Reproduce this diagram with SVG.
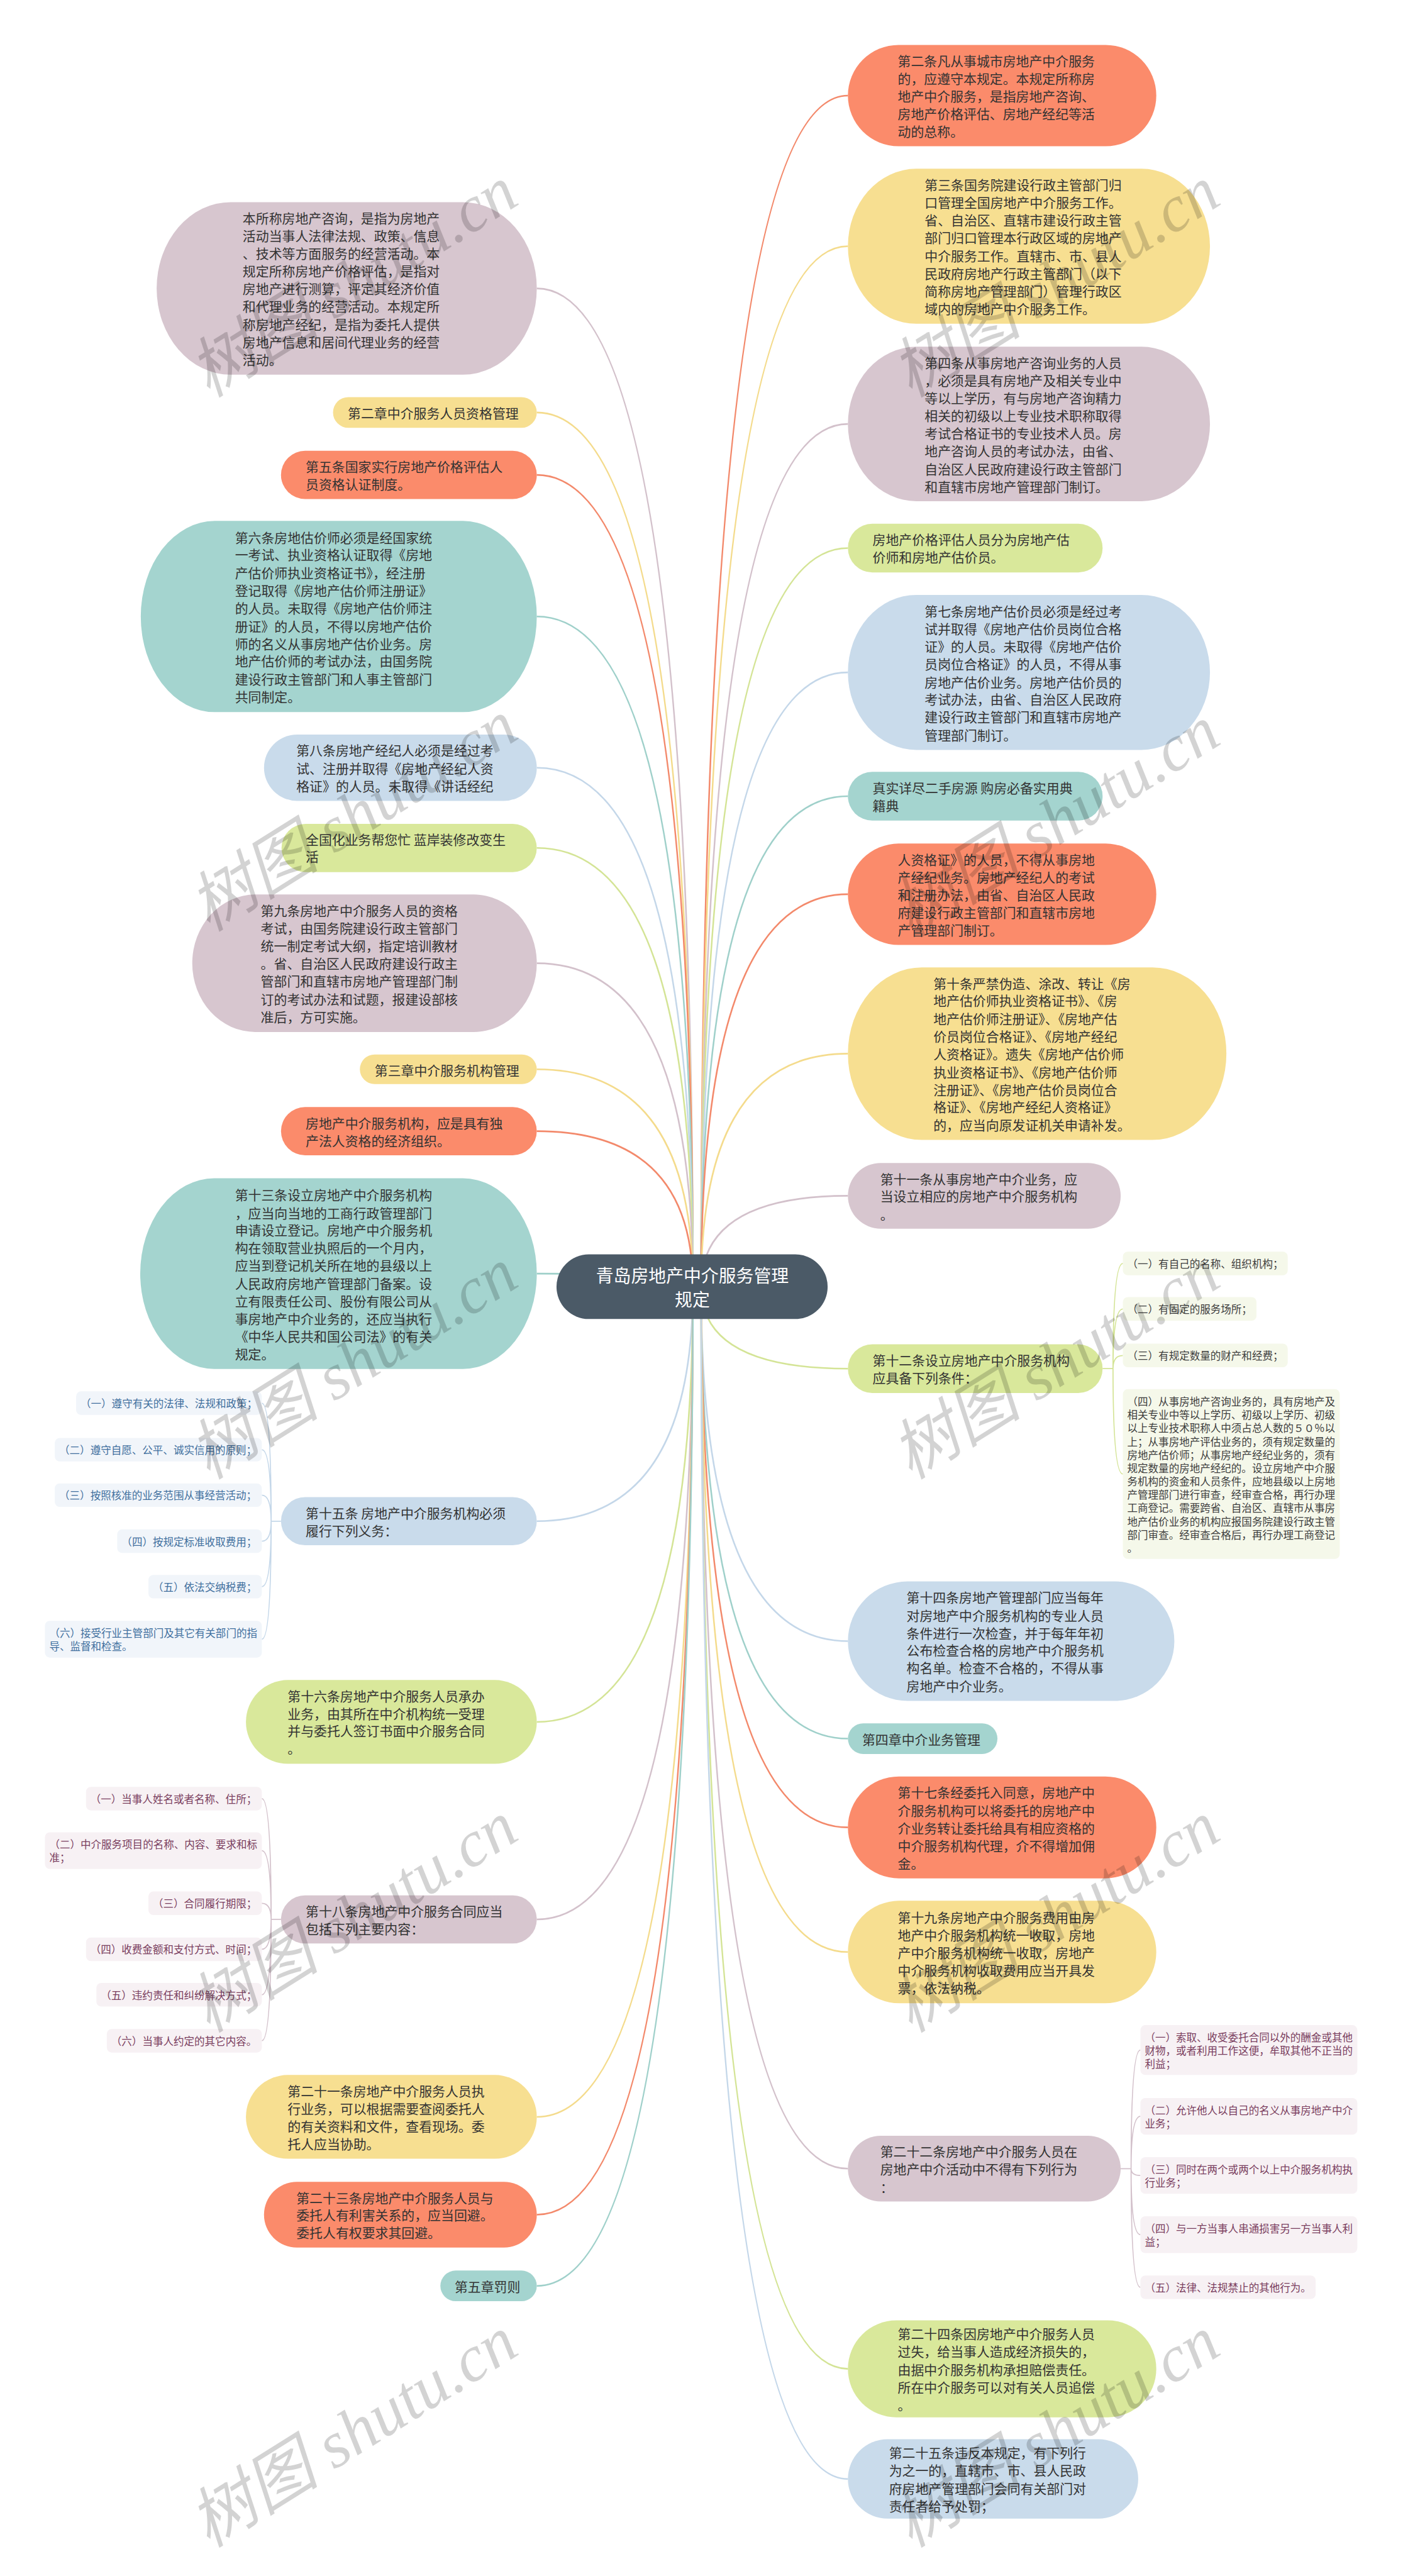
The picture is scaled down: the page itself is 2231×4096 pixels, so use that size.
<svg xmlns="http://www.w3.org/2000/svg" width="2231" height="4096" viewBox="0 0 2231 4096">
<style>
.t{font-family:"Noto Sans CJK SC","Noto Sans",sans-serif;font-size:24px;fill:#333;dominant-baseline:central}
.st{font-family:"Noto Sans CJK SC","Noto Sans",sans-serif;font-size:19px;dominant-baseline:central}
.sb{fill:#3f6f9e}.sg{fill:#3d3d3d}.sm{fill:#7a3d5e}
.sal{fill:#fb8b6b}.yel{fill:#f7df91}.mau{fill:#d7c6cf}.tea{fill:#a4d4cf}.blu{fill:#c9dbeb}.gre{fill:#d9e89b}
.bb{fill:#f1f5fa}.bg{fill:#f5f8ea}.bm{fill:#f7f1f4}
.k{fill:none;stroke-width:3}
.k2{fill:none;stroke-width:2}
.ksal{stroke:#f3896b}.kyel{stroke:#f4db8c}.kmau{stroke:#d3c1cb}.ktea{stroke:#9fd0ca}.kblu{stroke:#c4d7e9}.kgre{stroke:#d4e496}
.wm{font-family:"Liberation Serif","Noto Sans CJK SC",serif;font-style:italic;font-size:120px;fill:#000;opacity:0.17}
</style>
<rect width="2231" height="4096" fill="#fff"/>
<g transform="scale(0.871)">
<g id="connectors">
<path class="k kmau" d="M1265,2349 Q1265,526.5 980,526.5"/>
<path class="k kyel" d="M1265,2349 Q1265,753 980,753"/>
<path class="k ksal" d="M1265,2349 Q1265,867 980,867"/>
<path class="k ktea" d="M1265,2349 Q1265,1125.5 980,1125.5"/>
<path class="k kblu" d="M1265,2349 Q1265,1401.5 980,1401.5"/>
<path class="k kgre" d="M1265,2349 Q1265,1548 980,1548"/>
<path class="k kmau" d="M1265,2349 Q1265,1758.5 980,1758.5"/>
<path class="k kyel" d="M1265,2349 Q1265,1952 980,1952"/>
<path class="k ksal" d="M1265,2349 Q1265,2065 980,2065"/>
<path class="k ktea" d="M1265,2349 Q1265,2325 980,2325"/>
<path class="k kblu" d="M1265,2349 Q1265,2777 980,2777"/>
<path class="k kgre" d="M1265,2349 Q1265,3143.5 980,3143.5"/>
<path class="k kmau" d="M1265,2349 Q1265,3504 980,3504"/>
<path class="k kyel" d="M1265,2349 Q1265,3864.5 980,3864.5"/>
<path class="k ksal" d="M1265,2349 Q1265,4043 980,4043"/>
<path class="k ktea" d="M1265,2349 Q1265,4173 980,4173"/>
<path class="k ksal" d="M1280,2349 Q1280,174.5 1548,174.5"/>
<path class="k kyel" d="M1280,2349 Q1280,449.5 1548,449.5"/>
<path class="k kmau" d="M1280,2349 Q1280,774 1548,774"/>
<path class="k kgre" d="M1280,2349 Q1280,1000.5 1548,1000.5"/>
<path class="k kblu" d="M1280,2349 Q1280,1227.5 1548,1227.5"/>
<path class="k ktea" d="M1280,2349 Q1280,1453.5 1548,1453.5"/>
<path class="k ksal" d="M1280,2349 Q1280,1632.5 1548,1632.5"/>
<path class="k kyel" d="M1280,2349 Q1280,1923.5 1548,1923.5"/>
<path class="k kmau" d="M1280,2349 Q1280,2183 1548,2183"/>
<path class="k kgre" d="M1280,2349 Q1280,2498.5 1548,2498.5"/>
<path class="k kblu" d="M1280,2349 Q1280,2996 1548,2996"/>
<path class="k ktea" d="M1280,2349 Q1280,3174 1548,3174"/>
<path class="k ksal" d="M1280,2349 Q1280,3336 1548,3336"/>
<path class="k kyel" d="M1280,2349 Q1280,3563.5 1548,3563.5"/>
<path class="k kmau" d="M1280,2349 Q1280,3959 1548,3959"/>
<path class="k kgre" d="M1280,2349 Q1280,4324.5 1548,4324.5"/>
<path class="k kblu" d="M1280,2349 Q1280,4525.5 1548,4525.5"/>
<path class="k2 kblu" d="M513,2777 H495 Q495,2561.5 478,2561.5 M495,2777 Q495,2646.5 478,2646.5 M495,2777 Q495,2729.5 478,2729.5 M495,2777 Q495,2813.5 478,2813.5 M495,2777 Q495,2896.5 478,2896.5 M495,2777 Q495,2992.5 478,2992.5"/>
<path class="k2 kmau" d="M513,3504 H495 Q495,3283.5 478,3283.5 M495,3504 Q495,3378.5 478,3378.5 M495,3504 Q495,3474.5 478,3474.5 M495,3504 Q495,3558.5 478,3558.5 M495,3504 Q495,3641.5 478,3641.5 M495,3504 Q495,3725.5 478,3725.5"/>
<path class="k2 kgre" d="M2013,2498.5 H2032 Q2032,2306.5 2050,2306.5 M2032,2498.5 Q2032,2389.5 2050,2389.5 M2032,2498.5 Q2032,2474.5 2050,2474.5 M2032,2498.5 Q2032,2691 2050,2691"/>
<path class="k2 kmau" d="M2046,3959 H2065 Q2065,3742.5 2082,3742.5 M2065,3959 Q2065,3863.5 2082,3863.5 M2065,3959 Q2065,3971.5 2082,3971.5 M2065,3959 Q2065,4079.5 2082,4079.5 M2065,3959 Q2065,4175.5 2082,4175.5"/>
</g>

<g id="root">
<rect x="1016" y="2290" width="495" height="118" rx="59" fill="#4b5a67"/>
<text class="t" style="fill:#fff;font-size:32px" text-anchor="middle"><tspan x="1264" y="2327">青岛房地产中介服务管理</tspan><tspan x="1264" y="2371">规定</tspan></text>
</g>

<g id="L1"><rect class="mau" x="286" y="369" width="694" height="315" rx="135" ry="157.5"/>
<text class="t"><tspan x="443" y="397">本所称房地产咨询，是指为房地产</tspan><tspan x="443" y="429.3">活动当事人法律法规、政策、信息</tspan><tspan x="443" y="461.6">、技术等方面服务的经营活动。本</tspan><tspan x="443" y="493.9">规定所称房地产价格评估，是指对</tspan><tspan x="443" y="526.2">房地产进行测算，评定其经济价值</tspan><tspan x="443" y="558.5">和代理业务的经营活动。本规定所</tspan><tspan x="443" y="590.8">称房地产经纪，是指为委托人提供</tspan><tspan x="443" y="623.1">房地产信息和居间代理业务的经营</tspan><tspan x="443" y="655.4">活动。</tspan></text></g>
<g id="L2"><rect class="yel" x="608" y="725" width="372" height="56" rx="28"/>
<text class="t" x="635" y="753">第二章中介服务人员资格管理</text></g>
<g id="L3"><rect class="sal" x="513" y="823" width="467" height="88" rx="44"/>
<text class="t"><tspan x="558" y="851">第五条国家实行房地产价格评估人</tspan><tspan x="558" y="883">员资格认证制度。</tspan></text></g>
<g id="L4"><rect class="tea" x="257" y="951" width="723" height="349" rx="135" ry="174.5"/>
<text class="t"><tspan x="429" y="980">第六条房地估价师必须是经国家统</tspan><tspan x="429" y="1012">一考试、执业资格认证取得《房地</tspan><tspan x="429" y="1045">产估价师执业资格证书》，经注册</tspan><tspan x="429" y="1077">登记取得《房地产估价师注册证》</tspan><tspan x="429" y="1109">的人员。未取得《房地产估价师注</tspan><tspan x="429" y="1142">册证》的人员，不得以房地产估价</tspan><tspan x="429" y="1174">师的名义从事房地产估价业务。房</tspan><tspan x="429" y="1206">地产估价师的考试办法，由国务院</tspan><tspan x="429" y="1239">建设行政主管部门和人事主管部门</tspan><tspan x="429" y="1271">共同制定。</tspan></text></g>
<g id="L5"><rect class="blu" x="482" y="1341" width="498" height="121" rx="60.5"/>
<text class="t"><tspan x="541" y="1369">第八条房地产经纪人必须是经过考</tspan><tspan x="541" y="1401.5">试、注册并取得《房地产经纪人资</tspan><tspan x="541" y="1434">格证》的人员。未取得《讲话经纪</tspan></text></g>
<g id="L6"><rect class="gre" x="514" y="1504" width="466" height="88" rx="44"/>
<text class="t"><tspan x="558" y="1531">全国化业务帮您忙 蓝岸装修改变生</tspan><tspan x="558" y="1563">活</tspan></text></g>
<g id="L7"><rect class="mau" x="351" y="1633" width="629" height="251" rx="115" ry="125.5"/>
<text class="t"><tspan x="476" y="1661">第九条房地产中介服务人员的资格</tspan><tspan x="476" y="1693">考试，由国务院建设行政主管部门</tspan><tspan x="476" y="1726">统一制定考试大纲，指定培训教材</tspan><tspan x="476" y="1758">。省、自治区人民政府建设行政主</tspan><tspan x="476" y="1790">管部门和直辖市房地产管理部门制</tspan><tspan x="476" y="1823">订的考试办法和试题，报建设部核</tspan><tspan x="476" y="1855">准后，方可实施。</tspan></text></g>
<g id="L8"><rect class="yel" x="657" y="1925" width="323" height="54" rx="27"/>
<text class="t" x="684" y="1953">第三章中介服务机构管理</text></g>
<g id="L9"><rect class="sal" x="513" y="2021" width="467" height="88" rx="44"/>
<text class="t"><tspan x="558" y="2049">房地产中介服务机构，应是具有独</tspan><tspan x="558" y="2081">产法人资格的经济组织。</tspan></text></g>
<g id="L10"><rect class="tea" x="256" y="2151" width="724" height="348" rx="135" ry="174"/>
<text class="t"><tspan x="429" y="2180">第十三条设立房地产中介服务机构</tspan><tspan x="429" y="2213">，应当向当地的工商行政管理部门</tspan><tspan x="429" y="2245">申请设立登记。房地产中介服务机</tspan><tspan x="429" y="2277">构在领取营业执照后的一个月内，</tspan><tspan x="429" y="2309">应当到登记机关所在地的县级以上</tspan><tspan x="429" y="2342">人民政府房地产管理部门备案。设</tspan><tspan x="429" y="2374">立有限责任公司、股份有限公司从</tspan><tspan x="429" y="2406">事房地产中介业务的，还应当执行</tspan><tspan x="429" y="2439">《中华人民共和国公司法》的有关</tspan><tspan x="429" y="2471">规定。</tspan></text></g>
<g id="L11"><rect class="blu" x="513" y="2733" width="467" height="88" rx="44"/>
<text class="t"><tspan x="558" y="2761">第十五条 房地产中介服务机构必须</tspan><tspan x="558" y="2793">履行下列义务：</tspan></text></g>
<g id="L12"><rect class="gre" x="449" y="3067" width="531" height="153" rx="76.5"/>
<text class="t"><tspan x="525" y="3095">第十六条房地产中介服务人员承办</tspan><tspan x="525" y="3127">业务，由其所在中介机构统一受理</tspan><tspan x="525" y="3159">并与委托人签订书面中介服务合同</tspan><tspan x="525" y="3191">。</tspan></text></g>
<g id="L13"><rect class="mau" x="513" y="3460" width="467" height="88" rx="44"/>
<text class="t"><tspan x="558" y="3488">第十八条房地产中介服务合同应当</tspan><tspan x="558" y="3520">包括下列主要内容：</tspan></text></g>
<g id="L14"><rect class="yel" x="449" y="3788" width="531" height="153" rx="76.5"/>
<text class="t"><tspan x="525" y="3816">第二十一条房地产中介服务人员执</tspan><tspan x="525" y="3848">行业务，可以根据需要查阅委托人</tspan><tspan x="525" y="3881">的有关资料和文件，查看现场。委</tspan><tspan x="525" y="3913">托人应当协助。</tspan></text></g>
<g id="L15"><rect class="sal" x="482" y="3983" width="498" height="120" rx="60"/>
<text class="t"><tspan x="541" y="4011">第二十三条房地产中介服务人员与</tspan><tspan x="541" y="4043">委托人有利害关系的，应当回避。</tspan><tspan x="541" y="4075">委托人有权要求其回避。</tspan></text></g>
<g id="L16"><rect class="tea" x="804" y="4145" width="176" height="56" rx="28"/>
<text class="t" x="830" y="4173">第五章罚则</text></g>

<g id="R1"><rect class="sal" x="1548" y="82" width="563" height="185" rx="92.5"/>
<text class="t"><tspan x="1639" y="110">第二条凡从事城市房地产中介服务</tspan><tspan x="1639" y="142">的，应遵守本规定。本规定所称房</tspan><tspan x="1639" y="174.5">地产中介服务，是指房地产咨询、</tspan><tspan x="1639" y="207">房地产价格评估、房地产经纪等活</tspan><tspan x="1639" y="239">动的总称。</tspan></text></g>
<g id="R2"><rect class="yel" x="1548" y="308" width="661" height="283" rx="125" ry="141.5"/>
<text class="t"><tspan x="1688" y="336.5">第三条国务院建设行政主管部门归</tspan><tspan x="1688" y="368.8">口管理全国房地产中介服务工作。</tspan><tspan x="1688" y="401">省、自治区、直辖市建设行政主管</tspan><tspan x="1688" y="433.4">部门归口管理本行政区域的房地产</tspan><tspan x="1688" y="465.7">中介服务工作。直辖市、市、县人</tspan><tspan x="1688" y="498">民政府房地产行政主管部门（以下</tspan><tspan x="1688" y="530">简称房地产管理部门）管理行政区</tspan><tspan x="1688" y="562.6">域内的房地产中介服务工作。</tspan></text></g>
<g id="R3"><rect class="mau" x="1548" y="633" width="661" height="282" rx="125" ry="141"/>
<text class="t"><tspan x="1688" y="661">第四条从事房地产咨询业务的人员</tspan><tspan x="1688" y="693">，必须是具有房地产及相关专业中</tspan><tspan x="1688" y="725.5">等以上学历，有与房地产咨询精力</tspan><tspan x="1688" y="758">相关的初级以上专业技术职称取得</tspan><tspan x="1688" y="790">考试合格证书的专业技术人员。房</tspan><tspan x="1688" y="822.5">地产咨询人员的考试办法，由省、</tspan><tspan x="1688" y="855">自治区人民政府建设行政主管部门</tspan><tspan x="1688" y="887">和直辖市房地产管理部门制订。</tspan></text></g>
<g id="R4"><rect class="gre" x="1548" y="956" width="465" height="89" rx="44.5"/>
<text class="t"><tspan x="1593" y="984">房地产价格评估人员分为房地产估</tspan><tspan x="1593" y="1016">价师和房地产估价员。</tspan></text></g>
<g id="R5"><rect class="blu" x="1548" y="1086" width="661" height="283" rx="125" ry="141.5"/>
<text class="t"><tspan x="1688" y="1114.5">第七条房地产估价员必须是经过考</tspan><tspan x="1688" y="1147">试并取得《房地产估价员岗位合格</tspan><tspan x="1688" y="1179">证》的人员。未取得《房地产估价</tspan><tspan x="1688" y="1211">员岗位合格证》的人员，不得从事</tspan><tspan x="1688" y="1244">房地产估价业务。房地产估价员的</tspan><tspan x="1688" y="1276">考试办法，由省、自治区人民政府</tspan><tspan x="1688" y="1308">建设行政主管部门和直辖市房地产</tspan><tspan x="1688" y="1341">管理部门制订。</tspan></text></g>
<g id="R6"><rect class="tea" x="1548" y="1409" width="465" height="89" rx="44.5"/>
<text class="t"><tspan x="1593" y="1438">真实详尽二手房源 购房必备实用典</tspan><tspan x="1593" y="1470">籍典</tspan></text></g>
<g id="R7"><rect class="sal" x="1548" y="1540" width="563" height="185" rx="92.5"/>
<text class="t"><tspan x="1639" y="1568">人资格证》的人员，不得从事房地</tspan><tspan x="1639" y="1600">产经纪业务。房地产经纪人的考试</tspan><tspan x="1639" y="1632.5">和注册办法，由省、自治区人民政</tspan><tspan x="1639" y="1665">府建设行政主管部门和直辖市房地</tspan><tspan x="1639" y="1697">产管理部门制订。</tspan></text></g>
<g id="R8"><rect class="yel" x="1548" y="1766" width="691" height="315" rx="135" ry="157.5"/>
<text class="t"><tspan x="1704" y="1794">第十条严禁伪造、涂改、转让《房</tspan><tspan x="1704" y="1826">地产估价师执业资格证书》、《房</tspan><tspan x="1704" y="1859">地产估价师注册证》、《房地产估</tspan><tspan x="1704" y="1891">价员岗位合格证》、《房地产经纪</tspan><tspan x="1704" y="1923.5">人资格证》。遗失《房地产估价师</tspan><tspan x="1704" y="1956">执业资格证书》、《房地产估价师</tspan><tspan x="1704" y="1988">注册证》、《房地产估价员岗位合</tspan><tspan x="1704" y="2020">格证》、《房地产经纪人资格证》</tspan><tspan x="1704" y="2053">的，应当向原发证机关申请补发。</tspan></text></g>
<g id="R9"><rect class="mau" x="1548" y="2123" width="498" height="120" rx="60"/>
<text class="t"><tspan x="1607" y="2151">第十一条从事房地产中介业务，应</tspan><tspan x="1607" y="2183">当设立相应的房地产中介服务机构</tspan><tspan x="1607" y="2216">。</tspan></text></g>
<g id="R10"><rect class="gre" x="1548" y="2454" width="465" height="89" rx="44.5"/>
<text class="t"><tspan x="1593" y="2482">第十二条设立房地产中介服务机构</tspan><tspan x="1593" y="2514">应具备下列条件：</tspan></text></g>
<g id="R11"><rect class="blu" x="1548" y="2887" width="596" height="218" rx="109"/>
<text class="t"><tspan x="1655" y="2915">第十四条房地产管理部门应当每年</tspan><tspan x="1655" y="2948">对房地产中介服务机构的专业人员</tspan><tspan x="1655" y="2980">条件进行一次检查，并于每年年初</tspan><tspan x="1655" y="3012">公布检查合格的房地产中介服务机</tspan><tspan x="1655" y="3044">构名单。检查不合格的，不得从事</tspan><tspan x="1655" y="3077">房地产中介业务。</tspan></text></g>
<g id="R12"><rect class="tea" x="1548" y="3146" width="273" height="56" rx="28"/>
<text class="t" x="1574" y="3174">第四章中介业务管理</text></g>
<g id="R13"><rect class="sal" x="1548" y="3243" width="563" height="186" rx="93"/>
<text class="t"><tspan x="1639" y="3271">第十七条经委托入同意，房地产中</tspan><tspan x="1639" y="3304">介服务机构可以将委托的房地产中</tspan><tspan x="1639" y="3336">介业务转让委托给具有相应资格的</tspan><tspan x="1639" y="3368">中介服务机构代理，介不得增加佣</tspan><tspan x="1639" y="3401">金。</tspan></text></g>
<g id="R14"><rect class="yel" x="1548" y="3470" width="563" height="187" rx="93.5"/>
<text class="t"><tspan x="1639" y="3499">第十九条房地产中介服务费用由房</tspan><tspan x="1639" y="3531">地产中介服务机构统一收取，房地</tspan><tspan x="1639" y="3563.5">产中介服务机构统一收取，房地产</tspan><tspan x="1639" y="3596">中介服务机构收取费用应当开具发</tspan><tspan x="1639" y="3628">票，依法纳税。</tspan></text></g>
<g id="R15"><rect class="mau" x="1548" y="3899" width="498" height="120" rx="60"/>
<text class="t"><tspan x="1607" y="3927">第二十二条房地产中介服务人员在</tspan><tspan x="1607" y="3959">房地产中介活动中不得有下列行为</tspan><tspan x="1607" y="3992">：</tspan></text></g>
<g id="R16"><rect class="gre" x="1548" y="4236" width="563" height="177" rx="88.5"/>
<text class="t"><tspan x="1639" y="4260">第二十四条因房地产中介服务人员</tspan><tspan x="1639" y="4292">过失，给当事人造成经济损失的，</tspan><tspan x="1639" y="4324.5">由据中介服务机构承担赔偿责任。</tspan><tspan x="1639" y="4357">所在中介服务可以对有关人员追偿</tspan><tspan x="1639" y="4389">。</tspan></text></g>
<g id="R17"><rect class="blu" x="1548" y="4453" width="530" height="145" rx="72.5"/>
<text class="t"><tspan x="1623" y="4477">第二十五条违反本规定，有下列行</tspan><tspan x="1623" y="4509">为之一的，直辖市、市、县人民政</tspan><tspan x="1623" y="4542">府房地产管理部门会同有关部门对</tspan><tspan x="1623" y="4574">责任者给予处罚；</tspan></text></g>

<g id="S15">
<rect class="bb" x="139" y="2540" width="339" height="43" rx="9"/><text class="st sb" x="147" y="2561.5">（一）遵守有关的法律、法规和政策；</text>
<rect class="bb" x="100" y="2625" width="378" height="43" rx="9"/><text class="st sb" x="108" y="2646.5">（二）遵守自愿、公平、诚实信用的原则；</text>
<rect class="bb" x="100" y="2708" width="378" height="43" rx="9"/><text class="st sb" x="108" y="2729.5">（三）按照核准的业务范围从事经营活动；</text>
<rect class="bb" x="214" y="2792" width="264" height="43" rx="9"/><text class="st sb" x="222" y="2813.5">（四）按规定标准收取费用；</text>
<rect class="bb" x="271" y="2875" width="207" height="43" rx="9"/><text class="st sb" x="279" y="2896.5">（五）依法交纳税费；</text>
<rect class="bb" x="82" y="2959" width="396" height="67" rx="9"/><text class="st sb"><tspan x="90" y="2980.5">（六）接受行业主管部门及其它有关部门的指</tspan><tspan x="90" y="3004.8">导、监督和检查。</tspan></text>
</g>
<g id="S18">
<rect class="bm" x="157" y="3262" width="321" height="43" rx="9"/><text class="st sm" x="165" y="3283.5">（一）当事人姓名或者名称、住所；</text>
<rect class="bm" x="82" y="3345" width="396" height="67" rx="9"/><text class="st sm"><tspan x="90" y="3366.5">（二）中介服务项目的名称、内容、要求和标</tspan><tspan x="90" y="3390.8">准；</tspan></text>
<rect class="bm" x="271" y="3453" width="207" height="43" rx="9"/><text class="st sm" x="279" y="3474.5">（三）合同履行期限；</text>
<rect class="bm" x="157" y="3537" width="321" height="43" rx="9"/><text class="st sm" x="165" y="3558.5">（四）收费金额和支付方式、时间；</text>
<rect class="bm" x="176" y="3620" width="302" height="43" rx="9"/><text class="st sm" x="184" y="3641.5">（五）违约责任和纠纷解决方式；</text>
<rect class="bm" x="195" y="3704" width="283" height="43" rx="9"/><text class="st sm" x="203" y="3725.5">（六）当事人约定的其它内容。</text>
</g>
<g id="S12">
<rect class="bg" x="2050" y="2285" width="301" height="43" rx="9"/><text class="st sg" x="2058" y="2306.5">（一）有自己的名称、组织机构；</text>
<rect class="bg" x="2050" y="2368" width="244" height="43" rx="9"/><text class="st sg" x="2058" y="2389.5">（二）有固定的服务场所；</text>
<rect class="bg" x="2050" y="2453" width="301" height="43" rx="9"/><text class="st sg" x="2058" y="2474.5">（三）有规定数量的财产和经费；</text>
<rect class="bg" x="2050" y="2536" width="396" height="310" rx="9"/><text class="st sg"><tspan x="2058" y="2558">（四）从事房地产咨询业务的，具有房地产及</tspan><tspan x="2058" y="2582.3">相关专业中等以上学历、初级以上学历、初级</tspan><tspan x="2058" y="2606.6">以上专业技术职称人中须占总人数的５０％以</tspan><tspan x="2058" y="2630.9">上；从事房地产评估业务的，须有规定数量的</tspan><tspan x="2058" y="2655.2">房地产估价师；从事房地产经纪业务的，须有</tspan><tspan x="2058" y="2679.5">规定数量的房地产经纪的。设立房地产中介服</tspan><tspan x="2058" y="2703.8">务机构的资金和人员条件，应地县级以上房地</tspan><tspan x="2058" y="2728.1">产管理部门进行审查，经审查合格，再行办理</tspan><tspan x="2058" y="2752.4">工商登记。需要跨省、自治区、直辖市从事房</tspan><tspan x="2058" y="2776.7">地产估价业务的机构应报国务院建设行政主管</tspan><tspan x="2058" y="2801">部门审查。经审查合格后，再行办理工商登记</tspan><tspan x="2058" y="2825.3">。</tspan></text>
</g>
<g id="S22">
<rect class="bm" x="2082" y="3697" width="396" height="91" rx="9"/><text class="st sm"><tspan x="2090" y="3718.5">（一）索取、收受委托合同以外的酬金或其他</tspan><tspan x="2090" y="3742.8">财物，或者利用工作这便，牟取其他不正当的</tspan><tspan x="2090" y="3767.1">利益；</tspan></text>
<rect class="bm" x="2082" y="3830" width="396" height="67" rx="9"/><text class="st sm"><tspan x="2090" y="3851.5">（二）允许他人以自己的名义从事房地产中介</tspan><tspan x="2090" y="3875.8">业务；</tspan></text>
<rect class="bm" x="2082" y="3938" width="396" height="67" rx="9"/><text class="st sm"><tspan x="2090" y="3959.5">（三）同时在两个或两个以上中介服务机构执</tspan><tspan x="2090" y="3983.8">行业务；</tspan></text>
<rect class="bm" x="2082" y="4046" width="396" height="67" rx="9"/><text class="st sm"><tspan x="2090" y="4067.5">（四）与一方当事人串通损害另一方当事人利</tspan><tspan x="2090" y="4091.8">益；</tspan></text>
<rect class="bm" x="2082" y="4154" width="320" height="43" rx="9"/><text class="st sm" x="2090" y="4175.5">（五）法律、法规禁止的其他行为。</text>
</g>

<g id="watermark">
<text class="wm" transform="translate(645,515) rotate(-32)" text-anchor="middle" dominant-baseline="central">树图 shutu.cn</text>
<text class="wm" transform="translate(1927,515) rotate(-32)" text-anchor="middle" dominant-baseline="central">树图 shutu.cn</text>
<text class="wm" transform="translate(645,1490) rotate(-32)" text-anchor="middle" dominant-baseline="central">树图 shutu.cn</text>
<text class="wm" transform="translate(1927,1500) rotate(-32)" text-anchor="middle" dominant-baseline="central">树图 shutu.cn</text>
<text class="wm" transform="translate(645,2490) rotate(-32)" text-anchor="middle" dominant-baseline="central">树图 shutu.cn</text>
<text class="wm" transform="translate(1927,2490) rotate(-32)" text-anchor="middle" dominant-baseline="central">树图 shutu.cn</text>
<text class="wm" transform="translate(645,3500) rotate(-32)" text-anchor="middle" dominant-baseline="central">树图 shutu.cn</text>
<text class="wm" transform="translate(1927,3500) rotate(-32)" text-anchor="middle" dominant-baseline="central">树图 shutu.cn</text>
<text class="wm" transform="translate(645,4440) rotate(-32)" text-anchor="middle" dominant-baseline="central">树图 shutu.cn</text>
<text class="wm" transform="translate(1927,4440) rotate(-32)" text-anchor="middle" dominant-baseline="central">树图 shutu.cn</text>
</g>
</g>
</svg>
